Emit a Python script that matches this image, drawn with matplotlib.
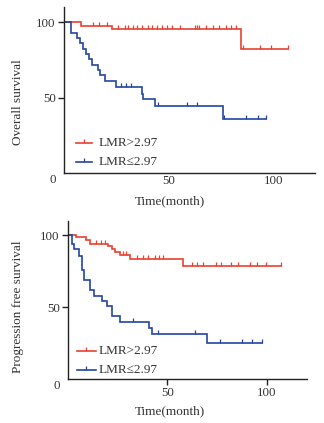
import numpy as np
import matplotlib
matplotlib.use("Agg")
import matplotlib.pyplot as plt

plt.rcParams['font.family'] = ['Liberation Serif', 'DejaVu Serif']

RED = '#E8412F'
BLUE = '#2446A0'

# ---------------- data ----------------
# Overall survival, LMR>2.97
os_hi_t = [0, 8, 23, 84.7]
os_hi_s = [100, 97.7, 95.3, 82]
os_hi_end = 107
os_hi_c = [13.7, 16.9, 20.6, 25.8, 29, 30.6, 33, 34.7, 37.4, 40.3, 41.9, 44.3,
           46.7, 49.2, 51.6, 55.6, 62.6, 63.7, 64.5, 67.7, 71, 74.2, 77.4, 79.8,
           82.2, 85.5, 93.5, 99.2, 107]
# Overall survival, LMR<=2.97
os_lo_t = [0, 3.5, 6.4, 7.7, 9.3, 10.5, 12.1, 13.4, 16.1, 17.4, 19.7, 25, 37.1, 37.9, 43.5, 75.8]
os_lo_s = [100, 93, 89.7, 86.4, 82, 79, 75.4, 71.7, 68.4, 65.1, 61.2, 57, 52.6, 49.1, 44.3, 36]
os_lo_end = 96.8
os_lo_c = [27.1, 29.8, 32.2, 45.1, 58.8, 63.7, 76.6, 87.1, 92.7, 96.8]

# Progression free survival, LMR>2.97
pfs_hi_t = [0, 4.2, 9.2, 10.9, 20.2, 21.9, 23.5, 26, 31.1, 57.6]
pfs_hi_s = [100, 98.6, 96.3, 94, 92.4, 90.1, 88.3, 86.5, 83.1, 78.7]
pfs_hi_end = 107.2
pfs_hi_c = [14.3, 16.8, 18.5, 27.8, 29.4, 34.5, 37.9, 40.4, 43.7, 45.5, 48, 62.5,
            64.6, 68, 74.3, 76.8, 82, 85.6, 91.5, 95, 99.5, 107.2]
# Progression free survival, LMR<=2.97
pfs_lo_t = [0, 2.2, 3.2, 5.3, 7.2, 8, 11, 13, 17.2, 19.5, 22, 26, 40.6, 42, 69.7]
pfs_lo_s = [100, 93.8, 90.4, 85.8, 75.5, 68.7, 62, 57.5, 54, 50.5, 43.8, 39.5, 35.6, 31.2, 25.3]
pfs_lo_end = 97.5
pfs_lo_c = [32.5, 45.3, 63.8, 76.4, 87.4, 92.4, 97.5]

labels = ['LMR>2.97', 'LMR≤2.97']
xticks = [50, 100]
yticks = [50, 100]
ylabels = ['Overall survival', 'Progression free survival']
xlabel = 'Time(month)'

W, H = 324, 423
fig = plt.figure(figsize=(W / 100, H / 100), dpi=100)


def px_axes(l, r, t, b):
    return fig.add_axes([l / W, 1 - b / H, (r - l) / W, (b - t) / H])


def km(ax, t, s, end, cens, color):
    tt = list(t) + [end]
    ss = list(s) + [s[-1]]
    ax.step(tt, ss, where='post', color=color, lw=1.2, solid_joinstyle='miter')
    idx = np.searchsorted(np.array(t), np.array(cens), side='right') - 1
    cy = np.array(s)[idx]
    ax.plot(cens, cy, linestyle='none', marker=2, markersize=3.2,
            markeredgewidth=0.9, color=color)


def style(ax, xtick_len, xpad):
    ax.set_xlim(0, 120)
    ax.set_ylim(0, 110)
    ax.set_xticks(xticks)
    ax.set_yticks(yticks)
    for sp in ['top', 'right']:
        ax.spines[sp].set_visible(False)
    for sp in ['left', 'bottom']:
        ax.spines[sp].set_linewidth(1.0)
        ax.spines[sp].set_color('#222222')
    ax.tick_params(direction='out', length=4, width=1.0, labelsize=9.3,
                   color='#222222', labelcolor='#333333', pad=2)
    ax.tick_params(axis='x', length=xtick_len, pad=xpad)
    ax.annotate('0', xy=(0, 0), xycoords='axes fraction', xytext=(-8, -7),
                textcoords='offset pixels', ha='right', va='center',
                fontsize=9.3, color='#333333')


def legend(ax, x0, x1, xt, yr, yb):
    for y, c, lab in [(yr, RED, labels[0]), (yb, BLUE, labels[1])]:
        ax.plot([x0, x1], [y, y], transform=ax.transAxes, color=c, lw=1.2, clip_on=False)
        ax.plot([(x0 + x1) / 2], [y], transform=ax.transAxes, marker=2, markersize=3.2,
                markeredgewidth=0.9, color=c, linestyle='none', clip_on=False)
        ax.text(xt, y, lab, transform=ax.transAxes, ha='left', va='center',
                fontsize=9.5, color='#333333')


# top panel
ax1 = px_axes(64, 315, 7, 173.3)
km(ax1, os_hi_t, os_hi_s, os_hi_end, os_hi_c, RED)
km(ax1, os_lo_t, os_lo_s, os_lo_end, os_lo_c, BLUE)
style(ax1, 0, 1.5)
legend(ax1, 0.048, 0.112, 0.139, 0.185, 0.065)

# bottom panel
ax2 = px_axes(68, 306.7, 220.7, 379)
km(ax2, pfs_hi_t, pfs_hi_s, pfs_hi_end, pfs_hi_c, RED)
km(ax2, pfs_lo_t, pfs_lo_s, pfs_lo_end, pfs_lo_c, BLUE)
style(ax2, 4, 2)
legend(ax2, 0.038, 0.117, 0.13, 0.179, 0.057)

fig.text(18 / W, 1 - 102 / H, ylabels[0], rotation=90, ha='center', va='center',
         fontsize=9.5, color='#333333')
fig.text(18 / W, 1 - 307 / H, ylabels[1], rotation=90, ha='center', va='center',
         fontsize=9.5, color='#333333')
fig.text(169.5 / W, 1 - 201 / H, xlabel, ha='center', va='center', fontsize=9.5, color='#333333')
fig.text(169.5 / W, 1 - 411.7 / H, xlabel, ha='center', va='center', fontsize=9.5, color='#333333')

fig.savefig('out.png', dpi=100)
